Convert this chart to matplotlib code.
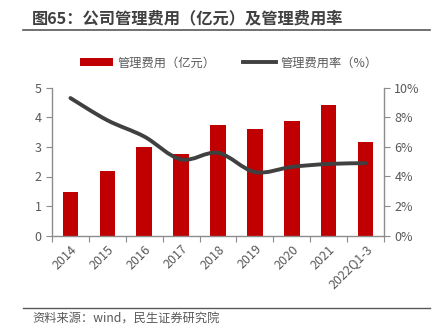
import matplotlib
matplotlib.use("Agg")
import matplotlib.pyplot as plt
from matplotlib.path import Path
from matplotlib.patches import PathPatch
from matplotlib.lines import Line2D
from matplotlib.patches import Patch
import numpy as np

plt.rcParams['font.family'] = ['Noto Sans CJK SC', 'DejaVu Sans']

categories = ['2014', '2015', '2016', '2017', '2018', '2019', '2020', '2021', '2022Q1-3']
expense = [1.47, 2.20, 2.99, 2.75, 3.73, 3.60, 3.89, 4.40, 3.17]
rate = [9.3, 7.8, 6.7, 5.15, 5.6, 4.3, 4.65, 4.85, 4.9]
left_ticks = [0, 1, 2, 3, 4, 5]
right_ticks = [0, 2, 4, 6, 8, 10]

bar_color = '#C00000'
line_color = '#404040'
text_color = '#595959'
spine_color = '#8C8C8C'

fig = plt.figure(figsize=(4.43, 3.34), dpi=100)
ax = fig.add_axes([52/443, 1-235.7/334, (384-52)/443, (235.7-87.7)/334])
ax2 = ax.twinx()

x = np.arange(len(categories))
ax.bar(x, expense, width=0.42, color=bar_color, zorder=2)
ax.set_xlim(-0.5, len(categories)-0.5)
ax.set_ylim(0, 5)
ax.set_yticks(left_ticks)
ax2.set_ylim(0, 10)
ax2.set_yticks(right_ticks)
ax2.set_yticklabels([f'{v}%' for v in right_ticks])

# smoothed line (Catmull-Rom -> cubic Bezier), Excel-like smoothing
pts = np.column_stack([x, rate]).astype(float)
verts = [tuple(pts[0])]
codes = [Path.MOVETO]
n = len(pts)
for i in range(n-1):
    p0 = pts[i-1] if i > 0 else pts[i]
    p1 = pts[i]
    p2 = pts[i+1]
    p3 = pts[i+2] if i+2 < n else pts[i+1]
    c1 = p1 + (p2 - p0) / 6.0
    c2 = p2 - (p3 - p1) / 6.0
    verts += [tuple(c1), tuple(c2), tuple(p2)]
    codes += [Path.CURVE4]*3
path = Path(verts, codes)
ax2.add_patch(PathPatch(path, facecolor='none', edgecolor=line_color, lw=2.8,
                        capstyle='round', zorder=3))

ax.set_xticks(np.arange(-0.5, len(categories), 1.0))
ax.set_xticklabels([])
ax.set_xticks(x, minor=True)
ax.set_xticklabels(categories, minor=True, rotation=45, ha='right',
                   rotation_mode='anchor', fontsize=9, color=text_color)
ax.tick_params(axis='x', which='minor', length=0, pad=5)
ax.tick_params(axis='x', which='major', length=4, color=spine_color, direction='out')
ax.tick_params(axis='y', length=4, color=spine_color, labelsize=9, labelcolor=text_color)
ax2.tick_params(axis='y', length=4, color=spine_color, labelsize=9, labelcolor=text_color)

for a in (ax, ax2):
    a.spines['top'].set_visible(False)
    for s in ('left', 'right', 'bottom'):
        a.spines[s].set_color(spine_color)
        a.spines[s].set_linewidth(1.0)
ax.spines['right'].set_visible(False)
ax2.spines['left'].set_visible(False)
ax2.spines['bottom'].set_visible(False)

# legend
handles = [Patch(facecolor=bar_color, edgecolor='none'),
           Line2D([0], [0], color=line_color, lw=2.8)]
labels = ['管理费用（亿元）', '管理费用率（%）']
fig.legend(handles, labels, loc='center', bbox_to_anchor=(229/443, 1-63/334), ncol=2,
           frameon=False, fontsize=8.8, labelcolor=text_color, handlelength=2.7,
           handleheight=0.6, columnspacing=2.3, handletextpad=0.35)

# title and rules
fig.text(32/443, 1-18/334, '图65：公司管理费用（亿元）及管理费用率', fontsize=11.7,
         fontweight='bold', color='#404040', va='center', ha='left')
fig.add_artist(Line2D([23/443, 430/443], [1-29.5/334, 1-29.5/334], color='#595959', lw=1.2))
fig.add_artist(Line2D([23/443, 430/443], [1-307.5/334, 1-307.5/334], color='#595959', lw=1.0))
fig.text(32/443, 1-319/334, '资料来源：wind，民生证券研究院', fontsize=8.8,
         color=text_color, va='center', ha='left')

fig.savefig('out.png', dpi=100)
